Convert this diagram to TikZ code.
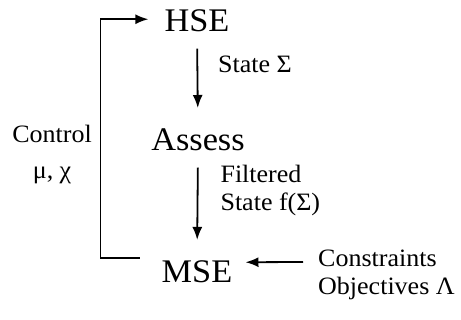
\documentclass[tikz,border=0pt]{standalone}
\usepackage{fontspec}
\setmainfont[FakeStretch = 1.04]{Liberation Serif}
\usetikzlibrary{arrows.meta, positioning}

\begin{document}
\begin{tikzpicture}[x = 1pt, y = -1pt]%
    %
    \def\bigsize{\fontsize{33}{36}\selectfont}%
    \def\smallsize{\fontsize{25}{28}\selectfont}%
    %
    \tikzstyle{arrow} = [-{Latex[length = 13pt, width = 10pt]}, line width = 1.8pt, draw = black]%
    \tikzstyle{flow} = [arrow, shorten <= 16pt, shorten >= 21pt]%
    \tikzstyle{block} = [inner sep = 0pt, font = \bigsize, anchor = base]%
    \tikzstyle{note} = [inner sep = 0pt, font = \smallsize, align = left]%
    %
    \useasboundingbox (0, 0) rectangle (461, 320);%
    %
    % Stages
    \node (hse) [block] at (197, 32) {HSE};%
    \node (assess) [block] at (198, 151) {Assess};%
    \node (mse) [block] at (197, 283) {MSE};%
    %
    % Inputs
    \node (constraints) [note, anchor = north west] at (318, 250) {Constraints\\Objectives Λ};%
    \node (control) [note, align = center, anchor = north east] at (92, 125) {Control\\[8pt]μ, χ};%
    %
    % Forward path
    \draw [flow] (hse.south) -- (assess.north) node [note, pos = 0.33, right = 20pt] {State Σ};%
    \draw [flow] (assess.south) -- (mse.north) node [note, pos = 0.355, right = 22pt] {Filtered\\State f(Σ)};%
    %
    % Feedback loop
    \draw [arrow] ([shift = {(-22pt, 14pt)}]mse.west) -- ++(-39pt, 0pt) |- ([shift = {(-16pt, 2pt)}]hse.west);%
    %
    % Side input
    \draw [arrow] ([shift = {(-15pt, -12pt)}]constraints.north west) -- ([shift = {(13pt, 10pt)}]mse.east);%
    %
\end{tikzpicture}
\end{document}
